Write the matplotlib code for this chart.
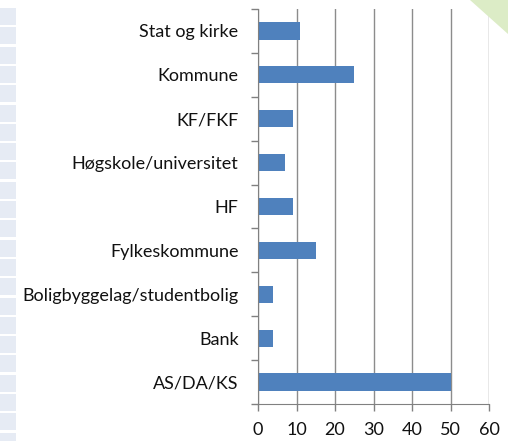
import numpy as np
import matplotlib
matplotlib.use("Agg")
import matplotlib.pyplot as plt
from matplotlib.patches import Rectangle, Polygon

categories = [
    "Stat og kirke",
    "Kommune",
    "KF/FKF",
    "Høgskole/universitet",
    "HF",
    "Fylkeskommune",
    "Boligbyggelag/studentbolig",
    "Bank",
    "AS/DA/KS",
]
values = [11, 25, 9, 7, 9, 15, 4, 4, 50]
x_ticks = [0, 10, 20, 30, 40, 50, 60]

plt.rcParams["font.family"] = ["Lato", "DejaVu Sans"]

fig = plt.figure(figsize=(5.08, 4.41), dpi=100)
fig.patch.set_facecolor("white")

# Background decoration: left strip of pale squares and green corner
W, H = 508, 441
for i in range(23):
    y0 = 8 + i * 19.3
    fig.patches.append(Rectangle((0, 1 - (y0 + 17) / H), 16 / W, 17 / H,
                                 transform=fig.transFigure, facecolor="#e6ebf4",
                                 edgecolor="none", zorder=0))
fig.patches.append(Polygon([(470 / W, 1), (1, 1), (1, 1 - 34 / H)], closed=True,
                           transform=fig.transFigure, facecolor="#dcecc6",
                           edgecolor="none", zorder=0))

ax = fig.add_axes([258 / W, 1 - 404 / H, (489 - 258) / W, (404 - 9) / H])
ax.set_facecolor("none")

y = np.arange(len(categories))
ax.barh(y, values, height=0.39, color="#4f81bd", zorder=3)

ax.set_xlim(0, 60)
ax.set_ylim(len(categories) - 0.5, -0.5)
ax.set_xticks(x_ticks)
ax.set_xticklabels([str(t) for t in x_ticks], fontsize=13, color="#111111")
ax.set_yticks(y)
ax.set_yticklabels(categories, fontsize=13, color="#111111")
ax.set_yticks(np.arange(len(categories) + 1) - 0.5, minor=True)

ax.tick_params(axis="y", which="major", length=0, pad=14)
ax.tick_params(axis="y", which="minor", length=5, width=1, color="#808080", direction="out")
ax.tick_params(axis="x", which="major", length=5, width=1, color="#808080", direction="out", pad=8)

ax.grid(axis="x", color="#8c8c8c", linewidth=1, zorder=1)
ax.set_axisbelow(True)
for side in ["top", "right"]:
    ax.spines[side].set_visible(False)
ax.spines["left"].set_color("#808080")
ax.spines["bottom"].set_color("#808080")
ax.spines["left"].set_zorder(4)

plt.savefig("out.png", dpi=100)
